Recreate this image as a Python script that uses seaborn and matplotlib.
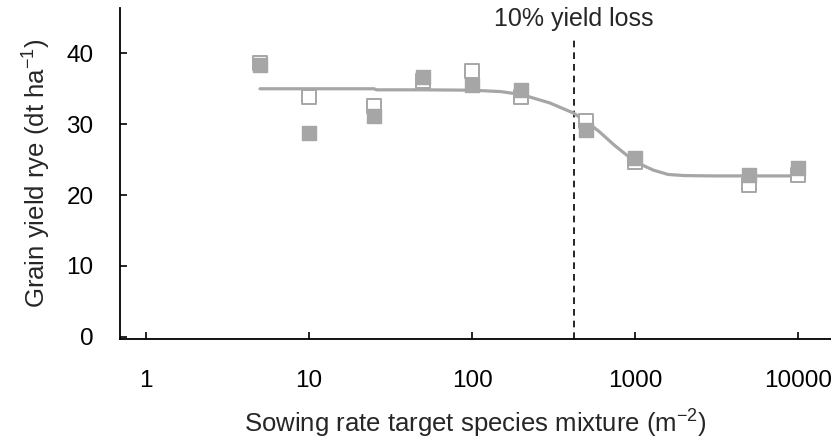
import numpy as np
import pandas as pd
import matplotlib
matplotlib.use("Agg")
import matplotlib.pyplot as plt
import seaborn as sns

# --- data ---
sowing_rate = [5, 10, 25, 50, 100, 200, 500, 1000, 5000, 10000]
yield_filled = [38.3, 28.8, 31.1, 36.7, 35.5, 34.8, 29.2, 25.2, 22.8, 23.8]
yield_open = [38.6, 33.9, 32.6, 36.1, 37.5, 33.8, 30.5, 24.7, 21.4, 22.8]

curve_x = [5, 25, 26, 50, 100, 150, 200, 300, 417, 500, 600, 750, 1000, 1300, 1600, 2000, 3000, 10000]
curve_y = [35.0, 35.0, 34.85, 34.85, 34.8, 34.6, 34.2, 33.0, 31.6, 30.4, 29.0, 27.0, 24.7, 23.5, 22.9, 22.75, 22.7, 22.7]

threshold_x = 420
xticks = [1, 10, 100, 1000, 10000]
yticks = [0, 10, 20, 30, 40]

sns.set_theme(style="white")
plt.rcParams['font.family'] = ['Liberation Sans', 'DejaVu Sans']
plt.rcParams['mathtext.fontset'] = 'custom'
plt.rcParams['mathtext.rm'] = 'Liberation Sans'
plt.rcParams['mathtext.it'] = 'Liberation Sans:italic'
plt.rcParams['mathtext.default'] = 'regular'

fig = plt.figure(figsize=(8.31, 4.43), dpi=100)
ax = fig.add_axes([120/831, 1 - 339/443, 1 - 120/831, (339 - 8)/443])

grey = "#A6A6A6"
curve = pd.DataFrame({"x": curve_x, "y": curve_y})
sns.lineplot(data=curve, x="x", y="y", ax=ax, color=grey, lw=2.3, zorder=2)

pts_open = pd.DataFrame({"x": sowing_rate, "y": yield_open})
pts_filled = pd.DataFrame({"x": sowing_rate, "y": yield_filled})
sns.scatterplot(data=pts_open, x="x", y="y", ax=ax, marker="s", s=90,
                facecolor="white", edgecolor=grey, linewidth=1.4, zorder=3)
sns.scatterplot(data=pts_filled, x="x", y="y", ax=ax, marker="s", s=90,
                color=grey, edgecolor=grey, linewidth=1.0, zorder=4)

ax.set_xscale("log")
ymin, ymax = -0.32, 46.4
ax.set_xlim(0.692, 15940)
ax.set_ylim(ymin, ymax)

dash_top = (41.9 - ymin) / (ymax - ymin)
ax.axvline(threshold_x, ymin=0, ymax=dash_top,
           color="black", ls=(0, (4, 3)), lw=1.2, zorder=1)
ax.text(threshold_x, 43.2, "10% yield loss", ha="center", va="bottom", fontsize=18)

ax.set_xticks(xticks)
ax.set_xticklabels([str(t) for t in xticks])
ax.xaxis.set_minor_locator(matplotlib.ticker.NullLocator())
ax.set_yticks(yticks)

for side in ["top", "right"]:
    ax.spines[side].set_visible(False)
for side in ["left", "bottom"]:
    ax.spines[side].set_color("black")
    ax.spines[side].set_linewidth(1.3)

ax.tick_params(axis="both", which="major", direction="in", length=5, width=1.2,
               colors="black", labelsize=17.5, labelcolor="black",
               bottom=True, left=True)
ax.tick_params(axis="x", pad=22)
ax.tick_params(axis="y", pad=19)

ax.set_xlabel("Sowing rate target species mixture (m$^{-2}$)", fontsize=18.5, labelpad=12)
ax.set_ylabel("Grain yield rye (dt ha$^{-1}$)", fontsize=18.5, labelpad=10)
ax.grid(False)

fig.savefig("out.png", dpi=100)
